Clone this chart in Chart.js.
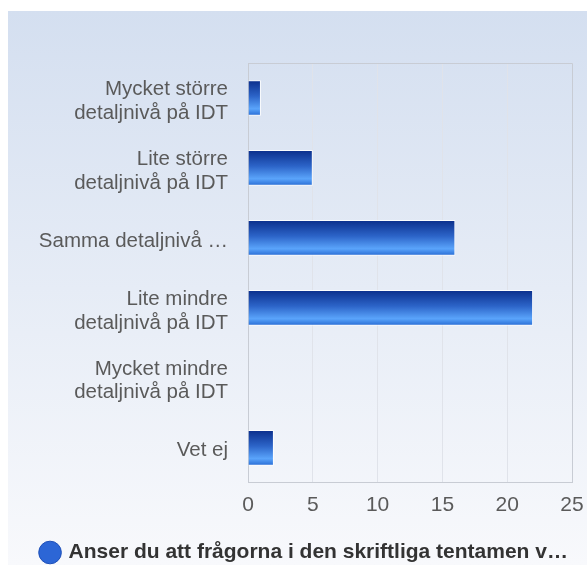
<!DOCTYPE html>
<html lang="sv">
<head>
    <meta charset="UTF-8">
    <title>Detaljnivå</title>
    <script src="https://cdn.jsdelivr.net/npm/chart.js"></script>
    <style>
        body {
            margin: 0;
            padding: 0;
            background: #ffffff;
            font-family: Arial, 'Liberation Sans', sans-serif;
        }
        .panel {
            position: absolute;
            left: 8px;
            top: 11px;
            width: 579px;
            height: 554px;
            background: linear-gradient(to bottom, #d4dff0 0%, #e6ecf6 50%, #f8f9fc 100%);
        }
    </style>
</head>
<body>
    <div class="panel">
        <canvas id="chart" width="579" height="554"></canvas>
    </div>

    <script>
        const categories = [
            ["Mycket större", "detaljnivå på IDT"],
            ["Lite större", "detaljnivå på IDT"],
            "Samma detaljnivå …",
            ["Lite mindre", "detaljnivå på IDT"],
            ["Mycket mindre", "detaljnivå på IDT"],
            "Vet ej"
        ];
        const answers = [1, 5, 16, 22, 0, 2];
        const xTicks = [0, 5, 10, 15, 20, 25];
        const seriesLabel = "Anser du att frågorna i den skriftliga tentamen v…";

        const FONT = "Arial, 'Liberation Sans', sans-serif";

        function barGradient(context) {
            const chart = context.chart;
            const area = chart.chartArea;
            if (!area || context.dataIndex === undefined) return "#2a6ad8";
            const y = chart.scales.y;
            const center = y.getPixelForValue(context.dataIndex);
            const half = 18;
            const g = chart.ctx.createLinearGradient(0, center - half, 0, center + half);
            g.addColorStop(0, "#0a2d8a");
            g.addColorStop(0.45, "#2c64c8");
            g.addColorStop(0.8, "#5aa4fb");
            g.addColorStop(1, "#2468d2");
            return g;
        }

        new Chart(document.getElementById("chart"), {
            type: "bar",
            data: {
                labels: categories,
                datasets: [{
                    label: seriesLabel,
                    data: answers,
                    backgroundColor: barGradient,
                    borderColor: "rgba(255,255,255,0.85)",
                    borderWidth: 1,
                    borderSkipped: "start",
                    barPercentage: 0.51,
                    categoryPercentage: 1
                }]
            },
            options: {
                indexAxis: "y",
                responsive: false,
                animation: false,
                layout: { padding: { top: 52, right: 3, bottom: -8, left: 18 } },
                scales: {
                    x: {
                        min: 0,
                        max: 25,
                        afterBuildTicks: scale => { scale.ticks = xTicks.map(v => ({ value: v })); },
                        afterFit: scale => {
                            scale.height += 12;
                            scale.paddingRight = 15;
                        },
                        grid: { color: "#e0e3ea", drawTicks: false },
                        border: { color: "#c8ccd4" },
                        ticks: {
                            color: "#5a5a5a",
                            font: { size: 21, family: FONT },
                            padding: 10
                        }
                    },
                    y: {
                        afterFit: scale => { scale.width = 222; },
                        grid: { display: false, drawTicks: false },
                        border: { color: "#c8ccd4" },
                        ticks: {
                            color: "#5a5a5a",
                            font: { size: 20.5, family: FONT, lineHeight: 1.17 },
                            padding: 20,
                            labelOffset: 3
                        }
                    }
                },
                plugins: {
                    legend: {
                        position: "bottom",
                        labels: {
                            usePointStyle: true,
                            pointStyle: "circle",
                            boxWidth: 16,
                            boxHeight: 16,
                            padding: 2,
                            color: "#333333",
                            font: { size: 21, weight: "bold", family: FONT },
                            generateLabels: chart => [{
                                text: seriesLabel,
                                fillStyle: "#2c66d6",
                                strokeStyle: "#1d4fb8",
                                lineWidth: 1,
                                pointStyle: "circle",
                                fontColor: "#333333",
                                datasetIndex: 0
                            }]
                        }
                    },
                    tooltip: { enabled: false }
                }
            },
            plugins: [{
                id: "topGrid",
                afterDraw: chart => {
                    // closing line on top and right of plot area
                    const a = chart.chartArea;
                    const ctx = chart.ctx;
                    ctx.save();
                    ctx.strokeStyle = "#c8ccd4";
                    ctx.lineWidth = 1;
                    ctx.beginPath();
                    ctx.moveTo(a.left, a.top + 0.5);
                    ctx.lineTo(a.right + 0.5, a.top + 0.5);
                    ctx.lineTo(a.right + 0.5, a.bottom);
                    ctx.stroke();
                    ctx.restore();
                }
            }]
        });
    </script>
</body>
</html>
